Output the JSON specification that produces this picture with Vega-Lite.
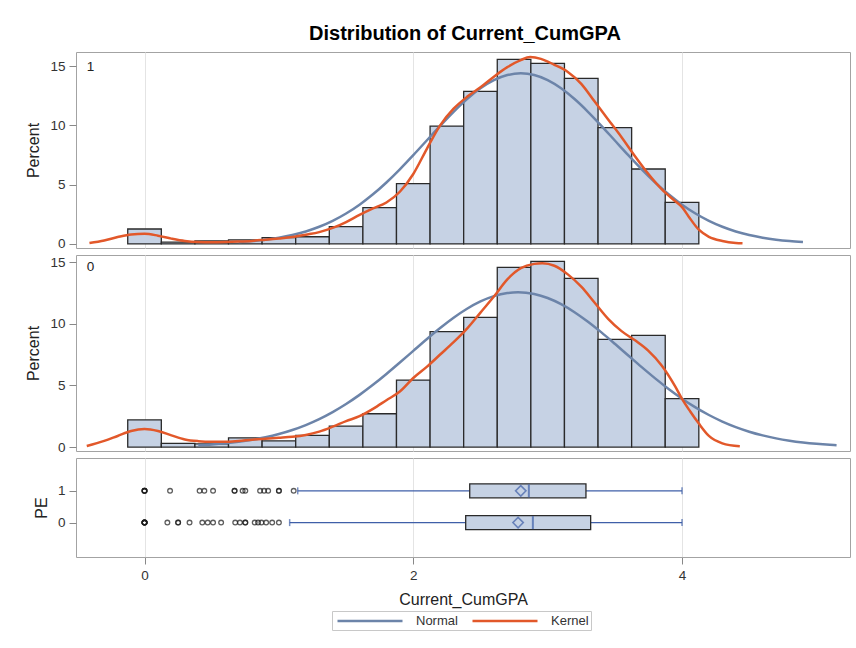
{
  "$schema": "https://vega.github.io/schema/vega-lite/v6.json",
  "padding": {"left": 25, "top": 23, "right": 5, "bottom": 5},
  "title": {"text": "Distribution of Current_CumGPA", "font": "Liberation Sans", "fontSize": 20, "fontWeight": "bold", "color": "#000", "anchor": "middle", "offset": 8, "dx": 27},
  "spacing": 7,
  "bounds": "flush",
  "datasets": {
    "hist": [
      {"pe": 1, "bin_start": -0.125, "bin_end": 0.125, "pct": 1.26},
      {"pe": 1, "bin_start": 0.125, "bin_end": 0.375, "pct": 0.15},
      {"pe": 1, "bin_start": 0.375, "bin_end": 0.625, "pct": 0.25},
      {"pe": 1, "bin_start": 0.625, "bin_end": 0.875, "pct": 0.35},
      {"pe": 1, "bin_start": 0.875, "bin_end": 1.125, "pct": 0.53},
      {"pe": 1, "bin_start": 1.125, "bin_end": 1.375, "pct": 0.61},
      {"pe": 1, "bin_start": 1.375, "bin_end": 1.625, "pct": 1.46},
      {"pe": 1, "bin_start": 1.625, "bin_end": 1.875, "pct": 3.06},
      {"pe": 1, "bin_start": 1.875, "bin_end": 2.125, "pct": 5.08},
      {"pe": 1, "bin_start": 2.125, "bin_end": 2.375, "pct": 9.94},
      {"pe": 1, "bin_start": 2.375, "bin_end": 2.625, "pct": 12.86},
      {"pe": 1, "bin_start": 2.625, "bin_end": 2.875, "pct": 15.56},
      {"pe": 1, "bin_start": 2.875, "bin_end": 3.125, "pct": 15.22},
      {"pe": 1, "bin_start": 3.125, "bin_end": 3.375, "pct": 13.96},
      {"pe": 1, "bin_start": 3.375, "bin_end": 3.625, "pct": 9.8},
      {"pe": 1, "bin_start": 3.625, "bin_end": 3.875, "pct": 6.32},
      {"pe": 1, "bin_start": 3.875, "bin_end": 4.125, "pct": 3.51},
      {"pe": 0, "bin_start": -0.125, "bin_end": 0.125, "pct": 2.2},
      {"pe": 0, "bin_start": 0.125, "bin_end": 0.375, "pct": 0.3},
      {"pe": 0, "bin_start": 0.375, "bin_end": 0.625, "pct": 0.25},
      {"pe": 0, "bin_start": 0.625, "bin_end": 0.875, "pct": 0.75},
      {"pe": 0, "bin_start": 0.875, "bin_end": 1.125, "pct": 0.5},
      {"pe": 0, "bin_start": 1.125, "bin_end": 1.375, "pct": 0.95},
      {"pe": 0, "bin_start": 1.375, "bin_end": 1.625, "pct": 1.7},
      {"pe": 0, "bin_start": 1.625, "bin_end": 1.875, "pct": 2.7},
      {"pe": 0, "bin_start": 1.875, "bin_end": 2.125, "pct": 5.43},
      {"pe": 0, "bin_start": 2.125, "bin_end": 2.375, "pct": 9.35},
      {"pe": 0, "bin_start": 2.375, "bin_end": 2.625, "pct": 10.52},
      {"pe": 0, "bin_start": 2.625, "bin_end": 2.875, "pct": 14.57},
      {"pe": 0, "bin_start": 2.875, "bin_end": 3.125, "pct": 15.06},
      {"pe": 0, "bin_start": 3.125, "bin_end": 3.375, "pct": 13.68},
      {"pe": 0, "bin_start": 3.375, "bin_end": 3.625, "pct": 8.73},
      {"pe": 0, "bin_start": 3.625, "bin_end": 3.875, "pct": 9.06},
      {"pe": 0, "bin_start": 3.875, "bin_end": 4.125, "pct": 3.92}
    ],
    "curves": [
      {"pe": 1, "curve": "Normal", "gpa": 0.7, "pct": 0.16},
      {"pe": 1, "curve": "Normal", "gpa": 0.8, "pct": 0.243},
      {"pe": 1, "curve": "Normal", "gpa": 0.9, "pct": 0.361},
      {"pe": 1, "curve": "Normal", "gpa": 1.0, "pct": 0.527},
      {"pe": 1, "curve": "Normal", "gpa": 1.1, "pct": 0.753},
      {"pe": 1, "curve": "Normal", "gpa": 1.2, "pct": 1.055},
      {"pe": 1, "curve": "Normal", "gpa": 1.3, "pct": 1.448},
      {"pe": 1, "curve": "Normal", "gpa": 1.4, "pct": 1.946},
      {"pe": 1, "curve": "Normal", "gpa": 1.5, "pct": 2.564},
      {"pe": 1, "curve": "Normal", "gpa": 1.6, "pct": 3.309},
      {"pe": 1, "curve": "Normal", "gpa": 1.7, "pct": 4.183},
      {"pe": 1, "curve": "Normal", "gpa": 1.8, "pct": 5.184},
      {"pe": 1, "curve": "Normal", "gpa": 1.9, "pct": 6.293},
      {"pe": 1, "curve": "Normal", "gpa": 2.0, "pct": 7.485},
      {"pe": 1, "curve": "Normal", "gpa": 2.1, "pct": 8.722},
      {"pe": 1, "curve": "Normal", "gpa": 2.2, "pct": 9.96},
      {"pe": 1, "curve": "Normal", "gpa": 2.3, "pct": 11.142},
      {"pe": 1, "curve": "Normal", "gpa": 2.4, "pct": 12.213},
      {"pe": 1, "curve": "Normal", "gpa": 2.5, "pct": 13.119},
      {"pe": 1, "curve": "Normal", "gpa": 2.6, "pct": 13.805},
      {"pe": 1, "curve": "Normal", "gpa": 2.7, "pct": 14.235},
      {"pe": 1, "curve": "Normal", "gpa": 2.8, "pct": 14.38},
      {"pe": 1, "curve": "Normal", "gpa": 2.9, "pct": 14.235},
      {"pe": 1, "curve": "Normal", "gpa": 3.0, "pct": 13.805},
      {"pe": 1, "curve": "Normal", "gpa": 3.1, "pct": 13.119},
      {"pe": 1, "curve": "Normal", "gpa": 3.2, "pct": 12.213},
      {"pe": 1, "curve": "Normal", "gpa": 3.3, "pct": 11.142},
      {"pe": 1, "curve": "Normal", "gpa": 3.4, "pct": 9.96},
      {"pe": 1, "curve": "Normal", "gpa": 3.5, "pct": 8.722},
      {"pe": 1, "curve": "Normal", "gpa": 3.6, "pct": 7.485},
      {"pe": 1, "curve": "Normal", "gpa": 3.7, "pct": 6.293},
      {"pe": 1, "curve": "Normal", "gpa": 3.8, "pct": 5.184},
      {"pe": 1, "curve": "Normal", "gpa": 3.9, "pct": 4.183},
      {"pe": 1, "curve": "Normal", "gpa": 4.0, "pct": 3.309},
      {"pe": 1, "curve": "Normal", "gpa": 4.1, "pct": 2.564},
      {"pe": 1, "curve": "Normal", "gpa": 4.2, "pct": 1.946},
      {"pe": 1, "curve": "Normal", "gpa": 4.3, "pct": 1.448},
      {"pe": 1, "curve": "Normal", "gpa": 4.4, "pct": 1.055},
      {"pe": 1, "curve": "Normal", "gpa": 4.5, "pct": 0.753},
      {"pe": 1, "curve": "Normal", "gpa": 4.6, "pct": 0.527},
      {"pe": 1, "curve": "Normal", "gpa": 4.7, "pct": 0.361},
      {"pe": 1, "curve": "Normal", "gpa": 4.8, "pct": 0.243},
      {"pe": 1, "curve": "Normal", "gpa": 4.9, "pct": 0.16},
      {"pe": 1, "curve": "Kernel", "gpa": -0.41, "pct": 0.08},
      {"pe": 1, "curve": "Kernel", "gpa": -0.3, "pct": 0.3},
      {"pe": 1, "curve": "Kernel", "gpa": -0.2, "pct": 0.58},
      {"pe": 1, "curve": "Kernel", "gpa": -0.1, "pct": 0.8},
      {"pe": 1, "curve": "Kernel", "gpa": 0.0, "pct": 0.86},
      {"pe": 1, "curve": "Kernel", "gpa": 0.1, "pct": 0.7},
      {"pe": 1, "curve": "Kernel", "gpa": 0.2, "pct": 0.45},
      {"pe": 1, "curve": "Kernel", "gpa": 0.3, "pct": 0.25},
      {"pe": 1, "curve": "Kernel", "gpa": 0.4, "pct": 0.16},
      {"pe": 1, "curve": "Kernel", "gpa": 0.5, "pct": 0.14},
      {"pe": 1, "curve": "Kernel", "gpa": 0.6, "pct": 0.16},
      {"pe": 1, "curve": "Kernel", "gpa": 0.7, "pct": 0.2},
      {"pe": 1, "curve": "Kernel", "gpa": 0.8, "pct": 0.26},
      {"pe": 1, "curve": "Kernel", "gpa": 0.9, "pct": 0.36},
      {"pe": 1, "curve": "Kernel", "gpa": 1.0, "pct": 0.46},
      {"pe": 1, "curve": "Kernel", "gpa": 1.1, "pct": 0.58},
      {"pe": 1, "curve": "Kernel", "gpa": 1.2, "pct": 0.78},
      {"pe": 1, "curve": "Kernel", "gpa": 1.3, "pct": 1.0},
      {"pe": 1, "curve": "Kernel", "gpa": 1.4, "pct": 1.35},
      {"pe": 1, "curve": "Kernel", "gpa": 1.5, "pct": 1.85},
      {"pe": 1, "curve": "Kernel", "gpa": 1.6, "pct": 2.45},
      {"pe": 1, "curve": "Kernel", "gpa": 1.7, "pct": 3.0},
      {"pe": 1, "curve": "Kernel", "gpa": 1.8, "pct": 3.5},
      {"pe": 1, "curve": "Kernel", "gpa": 1.9, "pct": 4.4},
      {"pe": 1, "curve": "Kernel", "gpa": 2.0, "pct": 5.9},
      {"pe": 1, "curve": "Kernel", "gpa": 2.1, "pct": 8.0},
      {"pe": 1, "curve": "Kernel", "gpa": 2.2, "pct": 10.0},
      {"pe": 1, "curve": "Kernel", "gpa": 2.3, "pct": 11.4},
      {"pe": 1, "curve": "Kernel", "gpa": 2.4, "pct": 12.4},
      {"pe": 1, "curve": "Kernel", "gpa": 2.5, "pct": 13.2},
      {"pe": 1, "curve": "Kernel", "gpa": 2.6, "pct": 14.1},
      {"pe": 1, "curve": "Kernel", "gpa": 2.7, "pct": 14.9},
      {"pe": 1, "curve": "Kernel", "gpa": 2.8, "pct": 15.5},
      {"pe": 1, "curve": "Kernel", "gpa": 2.87, "pct": 15.75},
      {"pe": 1, "curve": "Kernel", "gpa": 2.95, "pct": 15.6},
      {"pe": 1, "curve": "Kernel", "gpa": 3.05, "pct": 15.1},
      {"pe": 1, "curve": "Kernel", "gpa": 3.15, "pct": 14.5},
      {"pe": 1, "curve": "Kernel", "gpa": 3.25, "pct": 13.5},
      {"pe": 1, "curve": "Kernel", "gpa": 3.35, "pct": 12.0},
      {"pe": 1, "curve": "Kernel", "gpa": 3.45, "pct": 10.5},
      {"pe": 1, "curve": "Kernel", "gpa": 3.55, "pct": 9.0},
      {"pe": 1, "curve": "Kernel", "gpa": 3.65, "pct": 7.4},
      {"pe": 1, "curve": "Kernel", "gpa": 3.75, "pct": 5.9},
      {"pe": 1, "curve": "Kernel", "gpa": 3.85, "pct": 4.6},
      {"pe": 1, "curve": "Kernel", "gpa": 3.95, "pct": 3.6},
      {"pe": 1, "curve": "Kernel", "gpa": 4.0, "pct": 3.1},
      {"pe": 1, "curve": "Kernel", "gpa": 4.05, "pct": 2.3},
      {"pe": 1, "curve": "Kernel", "gpa": 4.125, "pct": 1.2},
      {"pe": 1, "curve": "Kernel", "gpa": 4.2, "pct": 0.6},
      {"pe": 1, "curve": "Kernel", "gpa": 4.3, "pct": 0.25},
      {"pe": 1, "curve": "Kernel", "gpa": 4.4, "pct": 0.08},
      {"pe": 1, "curve": "Kernel", "gpa": 4.45, "pct": 0.05},
      {"pe": 0, "curve": "Normal", "gpa": 0.4, "pct": 0.15},
      {"pe": 0, "curve": "Normal", "gpa": 0.5, "pct": 0.216},
      {"pe": 0, "curve": "Normal", "gpa": 0.6, "pct": 0.306},
      {"pe": 0, "curve": "Normal", "gpa": 0.7, "pct": 0.427},
      {"pe": 0, "curve": "Normal", "gpa": 0.8, "pct": 0.587},
      {"pe": 0, "curve": "Normal", "gpa": 0.9, "pct": 0.793},
      {"pe": 0, "curve": "Normal", "gpa": 1.0, "pct": 1.056},
      {"pe": 0, "curve": "Normal", "gpa": 1.1, "pct": 1.384},
      {"pe": 0, "curve": "Normal", "gpa": 1.2, "pct": 1.785},
      {"pe": 0, "curve": "Normal", "gpa": 1.3, "pct": 2.267},
      {"pe": 0, "curve": "Normal", "gpa": 1.4, "pct": 2.835},
      {"pe": 0, "curve": "Normal", "gpa": 1.5, "pct": 3.489},
      {"pe": 0, "curve": "Normal", "gpa": 1.6, "pct": 4.229},
      {"pe": 0, "curve": "Normal", "gpa": 1.7, "pct": 5.045},
      {"pe": 0, "curve": "Normal", "gpa": 1.8, "pct": 5.926},
      {"pe": 0, "curve": "Normal", "gpa": 1.9, "pct": 6.853},
      {"pe": 0, "curve": "Normal", "gpa": 2.0, "pct": 7.802},
      {"pe": 0, "curve": "Normal", "gpa": 2.1, "pct": 8.745},
      {"pe": 0, "curve": "Normal", "gpa": 2.2, "pct": 9.65},
      {"pe": 0, "curve": "Normal", "gpa": 2.3, "pct": 10.483},
      {"pe": 0, "curve": "Normal", "gpa": 2.4, "pct": 11.211},
      {"pe": 0, "curve": "Normal", "gpa": 2.5, "pct": 11.805},
      {"pe": 0, "curve": "Normal", "gpa": 2.6, "pct": 12.236},
      {"pe": 0, "curve": "Normal", "gpa": 2.7, "pct": 12.487},
      {"pe": 0, "curve": "Normal", "gpa": 2.78, "pct": 12.55},
      {"pe": 0, "curve": "Normal", "gpa": 2.9, "pct": 12.41},
      {"pe": 0, "curve": "Normal", "gpa": 3.0, "pct": 12.084},
      {"pe": 0, "curve": "Normal", "gpa": 3.1, "pct": 11.585},
      {"pe": 0, "curve": "Normal", "gpa": 3.2, "pct": 10.935},
      {"pe": 0, "curve": "Normal", "gpa": 3.3, "pct": 10.159},
      {"pe": 0, "curve": "Normal", "gpa": 3.4, "pct": 9.295},
      {"pe": 0, "curve": "Normal", "gpa": 3.5, "pct": 8.371},
      {"pe": 0, "curve": "Normal", "gpa": 3.6, "pct": 7.422},
      {"pe": 0, "curve": "Normal", "gpa": 3.7, "pct": 6.478},
      {"pe": 0, "curve": "Normal", "gpa": 3.8, "pct": 5.567},
      {"pe": 0, "curve": "Normal", "gpa": 3.9, "pct": 4.71},
      {"pe": 0, "curve": "Normal", "gpa": 4.0, "pct": 3.923},
      {"pe": 0, "curve": "Normal", "gpa": 4.1, "pct": 3.217},
      {"pe": 0, "curve": "Normal", "gpa": 4.2, "pct": 2.597},
      {"pe": 0, "curve": "Normal", "gpa": 4.3, "pct": 2.064},
      {"pe": 0, "curve": "Normal", "gpa": 4.4, "pct": 1.615},
      {"pe": 0, "curve": "Normal", "gpa": 4.5, "pct": 1.244},
      {"pe": 0, "curve": "Normal", "gpa": 4.6, "pct": 0.944},
      {"pe": 0, "curve": "Normal", "gpa": 4.7, "pct": 0.704},
      {"pe": 0, "curve": "Normal", "gpa": 4.8, "pct": 0.518},
      {"pe": 0, "curve": "Normal", "gpa": 4.9, "pct": 0.375},
      {"pe": 0, "curve": "Normal", "gpa": 5.0, "pct": 0.267},
      {"pe": 0, "curve": "Normal", "gpa": 5.1, "pct": 0.187},
      {"pe": 0, "curve": "Normal", "gpa": 5.15, "pct": 0.156},
      {"pe": 0, "curve": "Kernel", "gpa": -0.43, "pct": 0.08},
      {"pe": 0, "curve": "Kernel", "gpa": -0.3, "pct": 0.5},
      {"pe": 0, "curve": "Kernel", "gpa": -0.2, "pct": 0.9},
      {"pe": 0, "curve": "Kernel", "gpa": -0.1, "pct": 1.3},
      {"pe": 0, "curve": "Kernel", "gpa": 0.0, "pct": 1.46},
      {"pe": 0, "curve": "Kernel", "gpa": 0.1, "pct": 1.3},
      {"pe": 0, "curve": "Kernel", "gpa": 0.2, "pct": 0.95},
      {"pe": 0, "curve": "Kernel", "gpa": 0.3, "pct": 0.62},
      {"pe": 0, "curve": "Kernel", "gpa": 0.4, "pct": 0.48},
      {"pe": 0, "curve": "Kernel", "gpa": 0.5, "pct": 0.43},
      {"pe": 0, "curve": "Kernel", "gpa": 0.6, "pct": 0.43},
      {"pe": 0, "curve": "Kernel", "gpa": 0.7, "pct": 0.5},
      {"pe": 0, "curve": "Kernel", "gpa": 0.8, "pct": 0.6},
      {"pe": 0, "curve": "Kernel", "gpa": 0.9, "pct": 0.68},
      {"pe": 0, "curve": "Kernel", "gpa": 1.0, "pct": 0.75},
      {"pe": 0, "curve": "Kernel", "gpa": 1.1, "pct": 0.83},
      {"pe": 0, "curve": "Kernel", "gpa": 1.2, "pct": 0.98},
      {"pe": 0, "curve": "Kernel", "gpa": 1.3, "pct": 1.25},
      {"pe": 0, "curve": "Kernel", "gpa": 1.4, "pct": 1.65},
      {"pe": 0, "curve": "Kernel", "gpa": 1.5, "pct": 2.1},
      {"pe": 0, "curve": "Kernel", "gpa": 1.6, "pct": 2.5},
      {"pe": 0, "curve": "Kernel", "gpa": 1.7, "pct": 3.1},
      {"pe": 0, "curve": "Kernel", "gpa": 1.8, "pct": 3.8},
      {"pe": 0, "curve": "Kernel", "gpa": 1.9, "pct": 4.5},
      {"pe": 0, "curve": "Kernel", "gpa": 2.0, "pct": 5.6},
      {"pe": 0, "curve": "Kernel", "gpa": 2.1, "pct": 6.5},
      {"pe": 0, "curve": "Kernel", "gpa": 2.2, "pct": 7.5},
      {"pe": 0, "curve": "Kernel", "gpa": 2.3, "pct": 8.5},
      {"pe": 0, "curve": "Kernel", "gpa": 2.4, "pct": 9.6},
      {"pe": 0, "curve": "Kernel", "gpa": 2.5, "pct": 10.9},
      {"pe": 0, "curve": "Kernel", "gpa": 2.6, "pct": 12.2},
      {"pe": 0, "curve": "Kernel", "gpa": 2.7, "pct": 13.6},
      {"pe": 0, "curve": "Kernel", "gpa": 2.8, "pct": 14.5},
      {"pe": 0, "curve": "Kernel", "gpa": 2.9, "pct": 14.85},
      {"pe": 0, "curve": "Kernel", "gpa": 2.96, "pct": 14.9},
      {"pe": 0, "curve": "Kernel", "gpa": 3.05, "pct": 14.7},
      {"pe": 0, "curve": "Kernel", "gpa": 3.15, "pct": 14.0},
      {"pe": 0, "curve": "Kernel", "gpa": 3.25, "pct": 13.0},
      {"pe": 0, "curve": "Kernel", "gpa": 3.35, "pct": 11.7},
      {"pe": 0, "curve": "Kernel", "gpa": 3.45, "pct": 10.4},
      {"pe": 0, "curve": "Kernel", "gpa": 3.55, "pct": 9.4},
      {"pe": 0, "curve": "Kernel", "gpa": 3.65, "pct": 8.65},
      {"pe": 0, "curve": "Kernel", "gpa": 3.75, "pct": 7.8},
      {"pe": 0, "curve": "Kernel", "gpa": 3.85, "pct": 6.6},
      {"pe": 0, "curve": "Kernel", "gpa": 3.95, "pct": 4.9},
      {"pe": 0, "curve": "Kernel", "gpa": 4.0, "pct": 3.9},
      {"pe": 0, "curve": "Kernel", "gpa": 4.06, "pct": 2.9},
      {"pe": 0, "curve": "Kernel", "gpa": 4.125, "pct": 1.9},
      {"pe": 0, "curve": "Kernel", "gpa": 4.2, "pct": 0.9},
      {"pe": 0, "curve": "Kernel", "gpa": 4.3, "pct": 0.3},
      {"pe": 0, "curve": "Kernel", "gpa": 4.43, "pct": 0.06}
    ],
    "box": [
      {"pe": 1, "low": 1.14, "q1": 2.42, "median": 2.86, "q3": 3.285, "high": 4.0, "mean": 2.8},
      {"pe": 0, "low": 1.08, "q1": 2.39, "median": 2.89, "q3": 3.32, "high": 4.0, "mean": 2.78}
    ],
    "outliers": [
      {"pe": 1, "gpa": 0}, {"pe": 1, "gpa": 0}, {"pe": 1, "gpa": 0}, {"pe": 1, "gpa": 0},
      {"pe": 1, "gpa": 0.19}, {"pe": 1, "gpa": 0.41}, {"pe": 1, "gpa": 0.445}, {"pe": 1, "gpa": 0.51},
      {"pe": 1, "gpa": 0.67}, {"pe": 1, "gpa": 0.67}, {"pe": 1, "gpa": 0.73}, {"pe": 1, "gpa": 0.75},
      {"pe": 1, "gpa": 0.86}, {"pe": 1, "gpa": 0.89}, {"pe": 1, "gpa": 0.92}, {"pe": 1, "gpa": 1.0},
      {"pe": 1, "gpa": 1.0}, {"pe": 1, "gpa": 1.11},
      {"pe": 0, "gpa": 0}, {"pe": 0, "gpa": 0}, {"pe": 0, "gpa": 0}, {"pe": 0, "gpa": 0}, {"pe": 0, "gpa": 0}, {"pe": 0, "gpa": 0},
      {"pe": 0, "gpa": 0.17}, {"pe": 0, "gpa": 0.25}, {"pe": 0, "gpa": 0.25}, {"pe": 0, "gpa": 0.335},
      {"pe": 0, "gpa": 0.43}, {"pe": 0, "gpa": 0.47}, {"pe": 0, "gpa": 0.51}, {"pe": 0, "gpa": 0.57},
      {"pe": 0, "gpa": 0.675}, {"pe": 0, "gpa": 0.71}, {"pe": 0, "gpa": 0.75}, {"pe": 0, "gpa": 0.75},
      {"pe": 0, "gpa": 0.82}, {"pe": 0, "gpa": 0.845}, {"pe": 0, "gpa": 0.87}, {"pe": 0, "gpa": 0.905},
      {"pe": 0, "gpa": 0.95}, {"pe": 0, "gpa": 1.0}
    ],
    "panel_labels": [
      {"pe": 1, "label": "1"},
      {"pe": 0, "label": "0"}
    ]
  },
  "config": {
    "font": "Liberation Sans",
    "view": {"stroke": "#a3a3a3", "strokeWidth": 1},
    "axis": {
      "labelFont": "Liberation Sans", "labelFontSize": 13.5, "labelColor": "#333333",
      "titleFont": "Liberation Sans", "titleFontSize": 16, "titleFontWeight": "normal", "titleColor": "#222222",
      "domain": false, "tickColor": "#888888", "tickSize": 7, "labelPadding": 4,
      "gridColor": "#e4e4e4", "gridWidth": 1
    },
    "legend": {
      "title": null,
      "symbolType": "M-5,0H5", "symbolSize": 169, "symbolStrokeWidth": 2.5,
      "labelFont": "Liberation Sans", "labelFontSize": 13, "labelColor": "#333333",
      "strokeColor": "#c8c8c8", "padding": 2, "columnPadding": 9
    }
  },
  "resolve": {"scale": {"x": "independent", "y": "independent", "color": "shared"}, "legend": {"color": "shared"}},
  "vconcat": [
    {
      "width": 774, "height": 196,
      "layer": [
        {
          "data": {"name": "hist"},
          "transform": [{"filter": "datum.pe === 1"}],
          "mark": {"type": "rect", "fill": "#c6d2e4", "stroke": "#2a2a2a", "strokeWidth": 1.3},
          "encoding": {
            "x": {"field": "bin_start", "type": "quantitative", "scale": {"domain": [-0.51, 5.25], "nice": false, "zero": false},
                  "axis": {"values": [0, 2, 4], "grid": true, "labels": false, "ticks": false, "title": null}},
            "x2": {"field": "bin_end"},
            "y": {"field": "pct", "type": "quantitative", "scale": {"domain": [-0.34, 16.18], "nice": false, "zero": false},
                  "axis": {"values": [0, 5, 10, 15], "grid": false, "title": "Percent", "titlePadding": 8}},
            "y2": {"datum": 0}
          }
        },
        {
          "data": {"name": "curves"},
          "transform": [{"filter": "datum.pe === 1"}],
          "mark": {"type": "line", "strokeWidth": 2.5, "interpolate": "monotone"},
          "encoding": {
            "x": {"field": "gpa", "type": "quantitative"},
            "y": {"field": "pct", "type": "quantitative"},
            "color": {"field": "curve", "type": "nominal", "scale": {"domain": ["Normal", "Kernel"], "range": ["#6c84a9", "#e2582a"]},
                      "legend": {"orient": "none", "direction": "horizontal", "legendX": 256, "legendY": 559, "symbolOffset": 28, "labelOffset": 38}}
          }
        },
        {
          "data": {"name": "panel_labels"},
          "transform": [{"filter": "datum.pe === 1"}],
          "mark": {"type": "text", "align": "left", "baseline": "middle", "fontSize": 13.5, "color": "#222222"},
          "encoding": {
            "x": {"datum": -0.43, "type": "quantitative"},
            "y": {"datum": 14.9, "type": "quantitative"},
            "text": {"field": "label"}
          }
        }
      ]
    },
    {
      "width": 774, "height": 196,
      "layer": [
        {
          "data": {"name": "hist"},
          "transform": [{"filter": "datum.pe === 0"}],
          "mark": {"type": "rect", "fill": "#c6d2e4", "stroke": "#2a2a2a", "strokeWidth": 1.3},
          "encoding": {
            "x": {"field": "bin_start", "type": "quantitative", "scale": {"domain": [-0.51, 5.25], "nice": false, "zero": false},
                  "axis": {"values": [0, 2, 4], "grid": true, "labels": false, "ticks": false, "title": null}},
            "x2": {"field": "bin_end"},
            "y": {"field": "pct", "type": "quantitative", "scale": {"domain": [-0.32, 15.57], "nice": false, "zero": false},
                  "axis": {"values": [0, 5, 10, 15], "grid": false, "title": "Percent", "titlePadding": 8}},
            "y2": {"datum": 0}
          }
        },
        {
          "data": {"name": "curves"},
          "transform": [{"filter": "datum.pe === 0"}],
          "mark": {"type": "line", "strokeWidth": 2.5, "interpolate": "monotone"},
          "encoding": {
            "x": {"field": "gpa", "type": "quantitative"},
            "y": {"field": "pct", "type": "quantitative"},
            "color": {"field": "curve", "type": "nominal", "scale": {"domain": ["Normal", "Kernel"], "range": ["#6c84a9", "#e2582a"]}}
          }
        },
        {
          "data": {"name": "panel_labels"},
          "transform": [{"filter": "datum.pe === 0"}],
          "mark": {"type": "text", "align": "left", "baseline": "middle", "fontSize": 13.5, "color": "#222222"},
          "encoding": {
            "x": {"datum": -0.43, "type": "quantitative"},
            "y": {"datum": 14.6, "type": "quantitative"},
            "text": {"field": "label"}
          }
        }
      ]
    },
    {
      "width": 774, "height": 99,
      "layer": [
        {
          "data": {"name": "box"},
          "mark": {"type": "rule", "color": "#3f5fa8", "strokeWidth": 1.3},
          "encoding": {
            "x": {"field": "low", "type": "quantitative", "scale": {"domain": [-0.51, 5.25], "nice": false, "zero": false},
                  "axis": {"values": [0, 2, 4], "format": "d", "grid": true, "title": "Current_CumGPA", "titlePadding": 10}},
            "x2": {"field": "q1"},
            "y": {"field": "pe", "type": "quantitative", "scale": {"domain": [-0.926, 1.878], "nice": false, "zero": false},
                  "axis": {"values": [0, 1], "format": "d", "grid": false, "title": "PE", "titlePadding": 8}}
          }
        },
        {
          "data": {"name": "box"},
          "mark": {"type": "rule", "color": "#3f5fa8", "strokeWidth": 1.3},
          "encoding": {
            "x": {"field": "q3", "type": "quantitative"},
            "x2": {"field": "high"},
            "y": {"field": "pe", "type": "quantitative"}
          }
        },
        {
          "data": {"name": "box"},
          "mark": {"type": "tick", "orient": "vertical", "color": "#3f5fa8", "size": 7, "thickness": 1.5},
          "encoding": {
            "x": {"field": "low", "type": "quantitative"},
            "y": {"field": "pe", "type": "quantitative"}
          }
        },
        {
          "data": {"name": "box"},
          "mark": {"type": "tick", "orient": "vertical", "color": "#3f5fa8", "size": 7, "thickness": 1.5},
          "encoding": {
            "x": {"field": "high", "type": "quantitative"},
            "y": {"field": "pe", "type": "quantitative"}
          }
        },
        {
          "data": {"name": "box"},
          "mark": {"type": "bar", "orient": "horizontal", "size": 14, "fill": "#c6d2e4", "stroke": "#2a2a2a", "strokeWidth": 1.3},
          "encoding": {
            "x": {"field": "q1", "type": "quantitative"},
            "x2": {"field": "q3"},
            "y": {"field": "pe", "type": "quantitative"}
          }
        },
        {
          "data": {"name": "box"},
          "mark": {"type": "tick", "orient": "vertical", "color": "#3f5fa8", "size": 13, "thickness": 2},
          "encoding": {
            "x": {"field": "median", "type": "quantitative"},
            "y": {"field": "pe", "type": "quantitative"}
          }
        },
        {
          "data": {"name": "box"},
          "mark": {"type": "point", "shape": "diamond", "filled": false, "size": 110, "color": "#3f5fa8", "strokeWidth": 1.5},
          "encoding": {
            "x": {"field": "mean", "type": "quantitative"},
            "y": {"field": "pe", "type": "quantitative"}
          }
        },
        {
          "data": {"name": "outliers"},
          "mark": {"type": "point", "shape": "circle", "filled": false, "size": 22, "color": "#1a1a1a", "strokeWidth": 1.3},
          "encoding": {
            "x": {"field": "gpa", "type": "quantitative"},
            "y": {"field": "pe", "type": "quantitative"}
          }
        }
      ]
    }
  ]
}
